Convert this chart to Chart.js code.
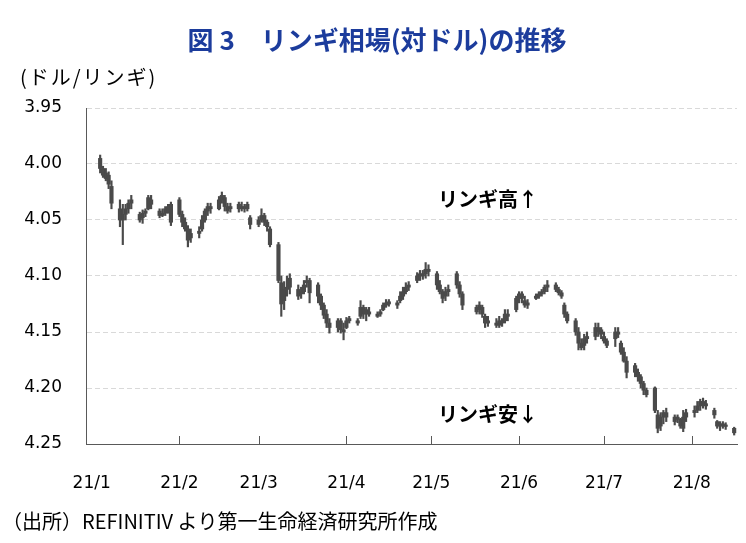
<!DOCTYPE html>
<html>
<head>
<meta charset="utf-8">
<script src="https://cdn.jsdelivr.net/npm/chart.js@4.4.1/dist/chart.umd.min.js"></script>
<style>
  html, body { margin: 0; padding: 0; background: #fff; }
  canvas { display: block; }
</style>
</head>
<body>
<canvas id="myrChart" width="746" height="543"></canvas>
<script>
// USD/MYR daily candles, 2021. Day = days since 2021-01-01 (calendar axis, like the Excel date axis).
const tradeDays = [
  3, 4, 5, 6, 7, 10, 11, 12, 13, 14, 17, 18, 19, 20, 21, 24, 25, 26, 27, 28,
  31, 32, 33, 34, 35, 38, 39, 40, 41, 42, 45, 46, 47, 48, 49, 52, 53, 54, 55, 56,
  59, 60, 61, 62, 63, 66, 67, 68, 69, 70, 73, 74, 75, 76, 77, 80, 81, 82, 83, 84,
  87, 88, 89, 90, 91, 94, 95, 96, 97, 98, 101, 102, 103, 104, 105, 108, 109, 110, 111, 112,
  115, 116, 117, 118, 119, 122, 123, 124, 125, 126, 129, 130, 131, 136, 137, 138, 139, 140,
  143, 144, 145, 146, 147, 150, 151, 152, 153, 154, 157, 158, 159, 160, 161, 164, 165, 166, 167, 168,
  171, 172, 173, 174, 175, 178, 179, 180, 181, 182, 185, 186, 187, 188, 189, 192, 193, 194, 195, 196,
  199, 200, 201, 202, 203, 206, 207, 208, 209, 210, 213, 214, 215, 216, 217, 220, 221, 222, 223, 224, 227
];
const openVals = [
  3.995, 4.004, 4.008, 4.010, 4.020, 4.040, 4.050, 4.045, 4.040, 4.035, 4.045, 4.048, 4.044, 4.040, 4.032, 4.042, 4.046, 4.044, 4.040, 4.036,
  4.032, 4.045, 4.052, 4.058, 4.066, 4.062, 4.058, 4.050, 4.042, 4.038, 4.040, 4.032, 4.030, 4.038, 4.040, 4.036, 4.040, 4.038, 4.040, 4.048,
  4.054, 4.050, 4.046, 4.052, 4.058, 4.072, 4.106, 4.122, 4.112, 4.110, 4.112, 4.116, 4.114, 4.106, 4.104, 4.108, 4.118, 4.126, 4.134, 4.142,
  4.146, 4.140, 4.148, 4.146, 4.140, 4.142, 4.136, 4.128, 4.134, 4.132, 4.136, 4.134, 4.130, 4.126, 4.125, 4.126, 4.122, 4.118, 4.114, 4.110,
  4.104, 4.100, 4.098, 4.098, 4.094, 4.098, 4.108, 4.114, 4.118, 4.114, 4.098, 4.108, 4.116, 4.128, 4.130, 4.128, 4.136, 4.142,
  4.142, 4.144, 4.140, 4.140, 4.134, 4.130, 4.120, 4.116, 4.122, 4.126, 4.120, 4.118, 4.116, 4.114, 4.110, 4.108, 4.112, 4.115, 4.126, 4.134,
  4.140, 4.150, 4.160, 4.162, 4.156, 4.146, 4.150, 4.148, 4.154, 4.158, 4.156, 4.150, 4.160, 4.168, 4.176, 4.180, 4.186, 4.190, 4.196, 4.202,
  4.200, 4.224, 4.234, 4.226, 4.222, 4.226, 4.228, 4.228, 4.236, 4.226, 4.222, 4.220, 4.216, 4.212, 4.214, 4.220, 4.230, 4.234, 4.232, 4.234, 4.236
];
const closeVals = [
  4.004, 4.010, 4.013, 4.018, 4.035, 4.050, 4.045, 4.040, 4.035, 4.032, 4.050, 4.044, 4.042, 4.030, 4.036, 4.046, 4.044, 4.040, 4.038, 4.052,
  4.045, 4.052, 4.058, 4.068, 4.062, 4.060, 4.050, 4.042, 4.038, 4.040, 4.032, 4.028, 4.038, 4.042, 4.038, 4.040, 4.038, 4.040, 4.036, 4.054,
  4.050, 4.046, 4.052, 4.056, 4.072, 4.104, 4.125, 4.112, 4.110, 4.102, 4.118, 4.114, 4.108, 4.104, 4.115, 4.118, 4.126, 4.135, 4.142, 4.146,
  4.140, 4.148, 4.150, 4.140, 4.138, 4.140, 4.128, 4.134, 4.130, 4.134, 4.134, 4.132, 4.126, 4.124, 4.123, 4.124, 4.118, 4.114, 4.110, 4.108,
  4.100, 4.098, 4.100, 4.094, 4.096, 4.108, 4.114, 4.120, 4.114, 4.112, 4.108, 4.116, 4.126, 4.132, 4.126, 4.134, 4.142, 4.140,
  4.144, 4.140, 4.142, 4.134, 4.136, 4.120, 4.116, 4.120, 4.126, 4.124, 4.118, 4.116, 4.114, 4.110, 4.108, 4.112, 4.115, 4.118, 4.134, 4.140,
  4.150, 4.160, 4.164, 4.156, 4.154, 4.154, 4.146, 4.152, 4.158, 4.162, 4.150, 4.152, 4.168, 4.176, 4.186, 4.186, 4.190, 4.196, 4.202, 4.206,
  4.220, 4.236, 4.226, 4.222, 4.226, 4.230, 4.226, 4.234, 4.226, 4.222, 4.220, 4.216, 4.212, 4.214, 4.216, 4.224, 4.234, 4.232, 4.234, 4.233, 4.240
];
const lowVals = [
  3.992, 4.002, 4.004, 4.007, 4.015, 4.032, 4.036, 4.036, 4.032, 4.028, 4.043, 4.041, 4.040, 4.028, 4.028, 4.040, 4.040, 4.038, 4.036, 4.034,
  4.030, 4.042, 4.048, 4.055, 4.058, 4.056, 4.046, 4.040, 4.035, 4.035, 4.029, 4.025, 4.028, 4.035, 4.035, 4.034, 4.034, 4.036, 4.034, 4.046,
  4.047, 4.040, 4.044, 4.050, 4.056, 4.070, 4.100, 4.105, 4.100, 4.098, 4.108, 4.110, 4.104, 4.100, 4.102, 4.106, 4.116, 4.124, 4.130, 4.138,
  4.138, 4.138, 4.142, 4.137, 4.136, 4.138, 4.122, 4.126, 4.128, 4.128, 4.132, 4.130, 4.124, 4.121, 4.121, 4.122, 4.114, 4.110, 4.106, 4.105,
  4.097, 4.095, 4.095, 4.088, 4.090, 4.096, 4.104, 4.112, 4.110, 4.108, 4.096, 4.105, 4.114, 4.126, 4.123, 4.126, 4.134, 4.136,
  4.138, 4.136, 4.138, 4.130, 4.130, 4.118, 4.114, 4.114, 4.118, 4.121, 4.116, 4.114, 4.112, 4.108, 4.104, 4.106, 4.110, 4.113, 4.124, 4.132,
  4.138, 4.146, 4.156, 4.152, 4.150, 4.142, 4.142, 4.146, 4.150, 4.156, 4.146, 4.146, 4.158, 4.164, 4.172, 4.178, 4.183, 4.188, 4.194, 4.200,
  4.199, 4.220, 4.222, 4.220, 4.218, 4.224, 4.224, 4.227, 4.220, 4.219, 4.216, 4.212, 4.210, 4.209, 4.211, 4.218, 4.229, 4.230, 4.230, 4.231, 4.235
];
const highVals = [
  4.008, 4.012, 4.015, 4.022, 4.040, 4.056, 4.072, 4.050, 4.044, 4.040, 4.052, 4.053, 4.047, 4.041, 4.040, 4.048, 4.047, 4.046, 4.044, 4.055,
  4.047, 4.056, 4.060, 4.074, 4.070, 4.066, 4.060, 4.052, 4.046, 4.044, 4.041, 4.035, 4.042, 4.044, 4.043, 4.043, 4.042, 4.043, 4.042, 4.058,
  4.056, 4.052, 4.055, 4.060, 4.074, 4.106, 4.136, 4.130, 4.118, 4.116, 4.121, 4.120, 4.116, 4.110, 4.124, 4.124, 4.130, 4.138, 4.146, 4.151,
  4.150, 4.151, 4.157, 4.147, 4.142, 4.144, 4.138, 4.138, 4.140, 4.136, 4.137, 4.136, 4.131, 4.128, 4.127, 4.129, 4.124, 4.121, 4.116, 4.113,
  4.106, 4.104, 4.103, 4.102, 4.100, 4.112, 4.116, 4.124, 4.122, 4.118, 4.111, 4.119, 4.130, 4.134, 4.134, 4.137, 4.146, 4.145,
  4.146, 4.146, 4.145, 4.142, 4.140, 4.132, 4.124, 4.124, 4.128, 4.129, 4.121, 4.120, 4.118, 4.116, 4.114, 4.114, 4.117, 4.120, 4.137, 4.142,
  4.153, 4.166, 4.166, 4.166, 4.160, 4.157, 4.154, 4.156, 4.160, 4.164, 4.163, 4.155, 4.170, 4.177, 4.191, 4.190, 4.194, 4.200, 4.206, 4.208,
  4.222, 4.240, 4.238, 4.232, 4.230, 4.233, 4.231, 4.236, 4.239, 4.230, 4.226, 4.222, 4.220, 4.218, 4.219, 4.227, 4.236, 4.238, 4.236, 4.237, 4.242
];

// axis ticks
const monthDays = [0, 31, 59, 90, 120, 151, 181, 212];
const monthLabels = ['21/1', '21/2', '21/3', '21/4', '21/5', '21/6', '21/7', '21/8'];
const yTicks = [3.95, 4.00, 4.05, 4.10, 4.15, 4.20, 4.25];

const CANDLE = '#4a4a4a';
const JP = "'Noto Sans CJK JP', 'Noto Sans', sans-serif";

const bodies = tradeDays.map((d, i) => ({ x: d, y: [openVals[i], closeVals[i]] }));
const wicks = tradeDays.map((d, i) => ({ x: d, y: [lowVals[i], highVals[i]] }));

// Title, unit, notes, source, and the inward month tick marks.
const decorPlugin = {
    id: 'decor',
    afterDraw(chart) {
        const { ctx, scales: { x, y } } = chart;
        ctx.save();
        ctx.strokeStyle = '#595959';
        ctx.lineWidth = 1;
        monthDays.slice(1).forEach(d => {
            const px = Math.round(x.getPixelForValue(d)) + 0.5;
            ctx.beginPath();
            ctx.moveTo(px, y.bottom);
            ctx.lineTo(px, y.bottom - 8);
            ctx.stroke();
        });

        ctx.textBaseline = 'middle';
        ctx.fillStyle = '#1C3C9C';
        ctx.font = `bold 26px ${JP}`;
        ctx.textAlign = 'center';
        ctx.fillText('図 3　リンギ相場(対ドル)の推移', 377, 40);

        ctx.fillStyle = '#000';
        ctx.textAlign = 'left';
        ctx.font = `20px ${JP}`;
        ctx.fillText('（出所）REFINITIV より第一生命経済研究所作成', 2, 521);
        ctx.letterSpacing = '2px';
        ctx.fillText('(ドル/リンギ)', 20, 77);
        ctx.letterSpacing = '0px';

        ctx.font = `bold 20px ${JP}`;
        ctx.fillText('リンギ高↑', 438, 199);
        ctx.fillText('リンギ安↓', 438, 414);
        ctx.restore();
    },
};

new Chart(document.getElementById('myrChart'), {
    type: 'bar',
    data: {
        datasets: [
            { data: wicks, backgroundColor: CANDLE, barThickness: 1.5, grouped: false },
            { data: bodies, backgroundColor: CANDLE, barThickness: 3.5, minBarLength: 1.5, grouped: false },
        ],
    },
    options: {
        responsive: false,
        animation: false,
        devicePixelRatio: 1,
        layout: { padding: { top: 108, right: 9, left: 0, bottom: 0 } },
        plugins: { legend: { display: false }, tooltip: { enabled: false } },
        scales: {
            x: {
                type: 'linear',
                offset: false,
                min: -2,
                max: 228,
                afterBuildTicks: s => { s.ticks = monthDays.map(v => ({ value: v })); },
                afterFit: s => { s.height = 99; },
                grid: { display: false },
                border: { display: true, color: '#595959', width: 1 },
                ticks: {
                    autoSkip: false,
                    maxRotation: 0,
                    padding: 21,
                    color: '#000',
                    font: { family: 'DejaVu Sans', size: 17 },
                    callback: v => monthLabels[monthDays.indexOf(v)],
                },
            },
            y: {
                reverse: true,
                min: 3.95,
                max: 4.25,
                afterBuildTicks: s => { s.ticks = yTicks.map(v => ({ value: v })); },
                afterFit: s => { s.width = 86; },
                grid: { color: '#d9d9d9', drawTicks: false },
                border: { display: true, color: '#595959', width: 1, dash: [5, 3] },
                ticks: {
                    padding: 24,
                    color: '#000',
                    font: { family: 'DejaVu Sans', size: 17 },
                    callback: v => v.toFixed(2),
                },
            },
        },
    },
    plugins: [decorPlugin],
});
</script>
</body>
</html>
